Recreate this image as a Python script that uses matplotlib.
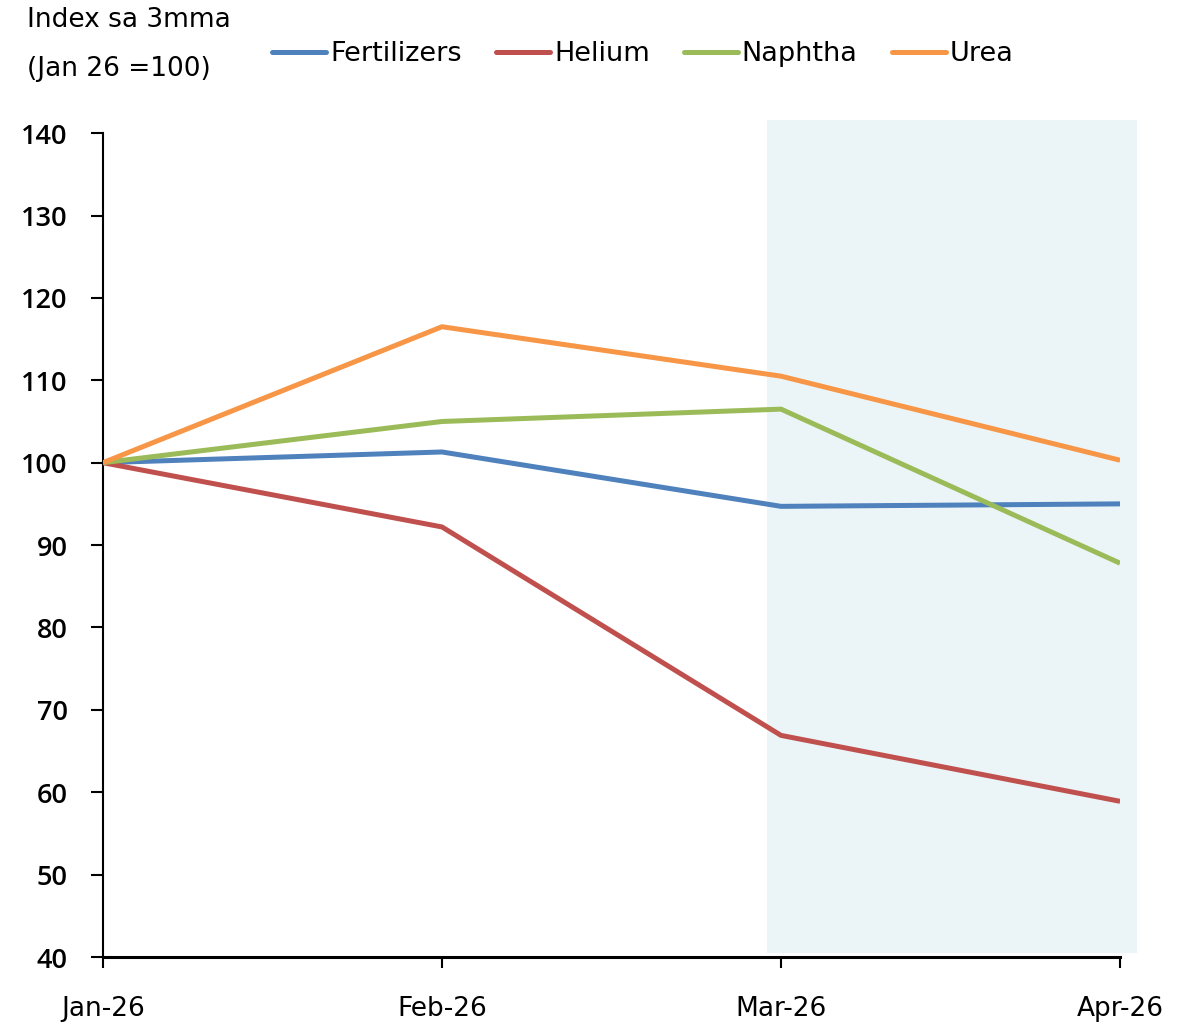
import numpy as np
import matplotlib.pyplot as plt
from matplotlib.patches import Rectangle

# data
months = ['Jan-26', 'Feb-26', 'Mar-26', 'Apr-26']
fertilizers = [100.0, 101.3, 94.7, 95.0]
helium = [100.0, 92.2, 66.9, 58.9]
naphtha = [100.0, 105.0, 106.5, 87.8]
urea = [100.0, 116.5, 110.5, 100.3]

series = [('Fertilizers', fertilizers, '#4F81BD'),
          ('Helium', helium, '#C0504D'),
          ('Naphtha', naphtha, '#9BBB59'),
          ('Urea', urea, '#F79646')]

plt.rcParams['font.family'] = ['DejaVu Sans']

fig = plt.figure(figsize=(11.86, 10.24), dpi=100)
ax = fig.add_axes([0.0868, 0.0654, 0.9444 - 0.0868, 0.870 - 0.0654])

x = np.arange(len(months))

# shaded region over Mar-Apr, a bit wider than the axes
shade = Rectangle((1.96, 40.5), 1.09, 101.1, facecolor='#EBF5F8',
                  edgecolor='none', clip_on=False, zorder=0)
ax.add_patch(shade)

for name, vals, col in series:
    ax.plot(x, vals, color=col, lw=3.6, label=name, solid_capstyle='butt', zorder=3)

ax.set_xlim(0, 3)
ax.set_ylim(40, 140)
ax.set_yticks(np.arange(40, 141, 10))
ax.set_xticks(x)
ax.set_xticklabels(months, fontsize=19)
ax.tick_params(axis='x', length=8, width=1.5, pad=20)
ax.tick_params(axis='y', length=8.5, width=1.5, pad=17)
for lab in ax.get_yticklabels():
    lab.set_fontfamily('Open Sans')
    lab.set_fontweight('semibold')
    lab.set_fontsize(19.5)

for s in ['top', 'right']:
    ax.spines[s].set_visible(False)
ax.spines['left'].set_linewidth(1.5)
ax.spines['bottom'].set_linewidth(2.2)

fig.text(27 / 1186, 1 - 20 / 1024, 'Index sa 3mma', fontsize=19, va='center', ha='left')
fig.text(27 / 1186, 1 - 69 / 1024, '(Jan 26 =100)', fontsize=19, va='center', ha='left')

leg = ax.legend(loc='center left', bbox_to_anchor=(272 / 1186, 1 - 54 / 1024),
                bbox_transform=fig.transFigure, ncol=4, frameon=False,
                fontsize=19.5, handlelength=2.0, handletextpad=0.15, columnspacing=1.25,
                borderaxespad=0, borderpad=0)
for h in leg.get_lines():
    h.set_solid_capstyle('round')

plt.savefig('out.png', dpi=100)
